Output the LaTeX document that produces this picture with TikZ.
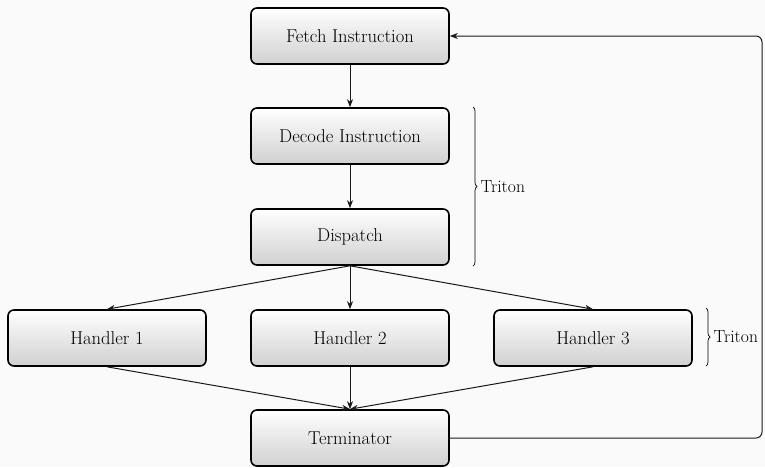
\documentclass[tikz,border=0pt]{standalone}
\usetikzlibrary{arrows.meta,decorations.pathreplacing}
\definecolor{pagebg}{RGB}{250,250,250}
\definecolor{boxbottom}{RGB}{208,208,208}
\begin{document}
\begin{tikzpicture}[x=1pt,y=-1pt,
  stagebox/.style={draw=black, line width=1.6pt, rounded corners=6pt,
    minimum width=198pt, minimum height=56pt, inner sep=0pt,
    top color=white, bottom color=boxbottom,
    font=\fontsize{18.6}{22}\selectfont},
  flow/.style={line width=1pt, draw=black!90, -{Stealth[length=8pt,width=6pt,inset=2.5pt]}},
  span/.style={line width=0.7pt, decorate, decoration={brace, amplitude=4pt}},
  spanlabel/.style={anchor=west, font=\fontsize{17.6}{21}\selectfont}]
  % canvas
  \fill[pagebg] (0,0) rectangle (765,467);
  \useasboundingbox (0,0) rectangle (765,467);

  % pipeline stages
  \node[stagebox] (fetch)    at (350,36)  {Fetch Instruction};
  \node[stagebox] (decode)   at (350,136) {Decode Instruction};
  \node[stagebox] (dispatch) at (350,237) {Dispatch};
  \node[stagebox] (h1)       at (107,338) {Handler 1};
  \node[stagebox] (h2)       at (350,338) {Handler 2};
  \node[stagebox] (h3)       at (593,338) {Handler 3};
  \node[stagebox] (term)     at (350,438) {Terminator};

  % forward flow
  \draw[flow] (fetch) -- (decode);
  \draw[flow] (decode) -- (dispatch);
  \draw[flow] (dispatch.south) -- (h1.north);
  \draw[flow] (dispatch.south) -- (h2.north);
  \draw[flow] (dispatch.south) -- (h3.north);
  \draw[flow] (h1.south) -- (term.north);
  \draw[flow] (h2.south) -- (term.north);
  \draw[flow] (h3.south) -- (term.north);

  % loop back to fetch
  \coordinate (loopbottom) at (762,438);
  \coordinate (looptop) at (762,36);
  \draw[flow, rounded corners=6pt] (term.east) -- (loopbottom) -- (looptop) -- (fetch.east);

  % braces
  \coordinate (b1top) at (473,107);
  \coordinate (b1bot) at (473,266);
  \draw[span] (b1top) -- (b1bot) node[midway, xshift=4pt, spanlabel] (t1) {Triton};
  \coordinate (b2top) at (706,308);
  \coordinate (b2bot) at (706,366);
  \draw[span] (b2top) -- (b2bot) node[midway, xshift=4pt, spanlabel] (t2) {Triton};
\end{tikzpicture}
\end{document}
